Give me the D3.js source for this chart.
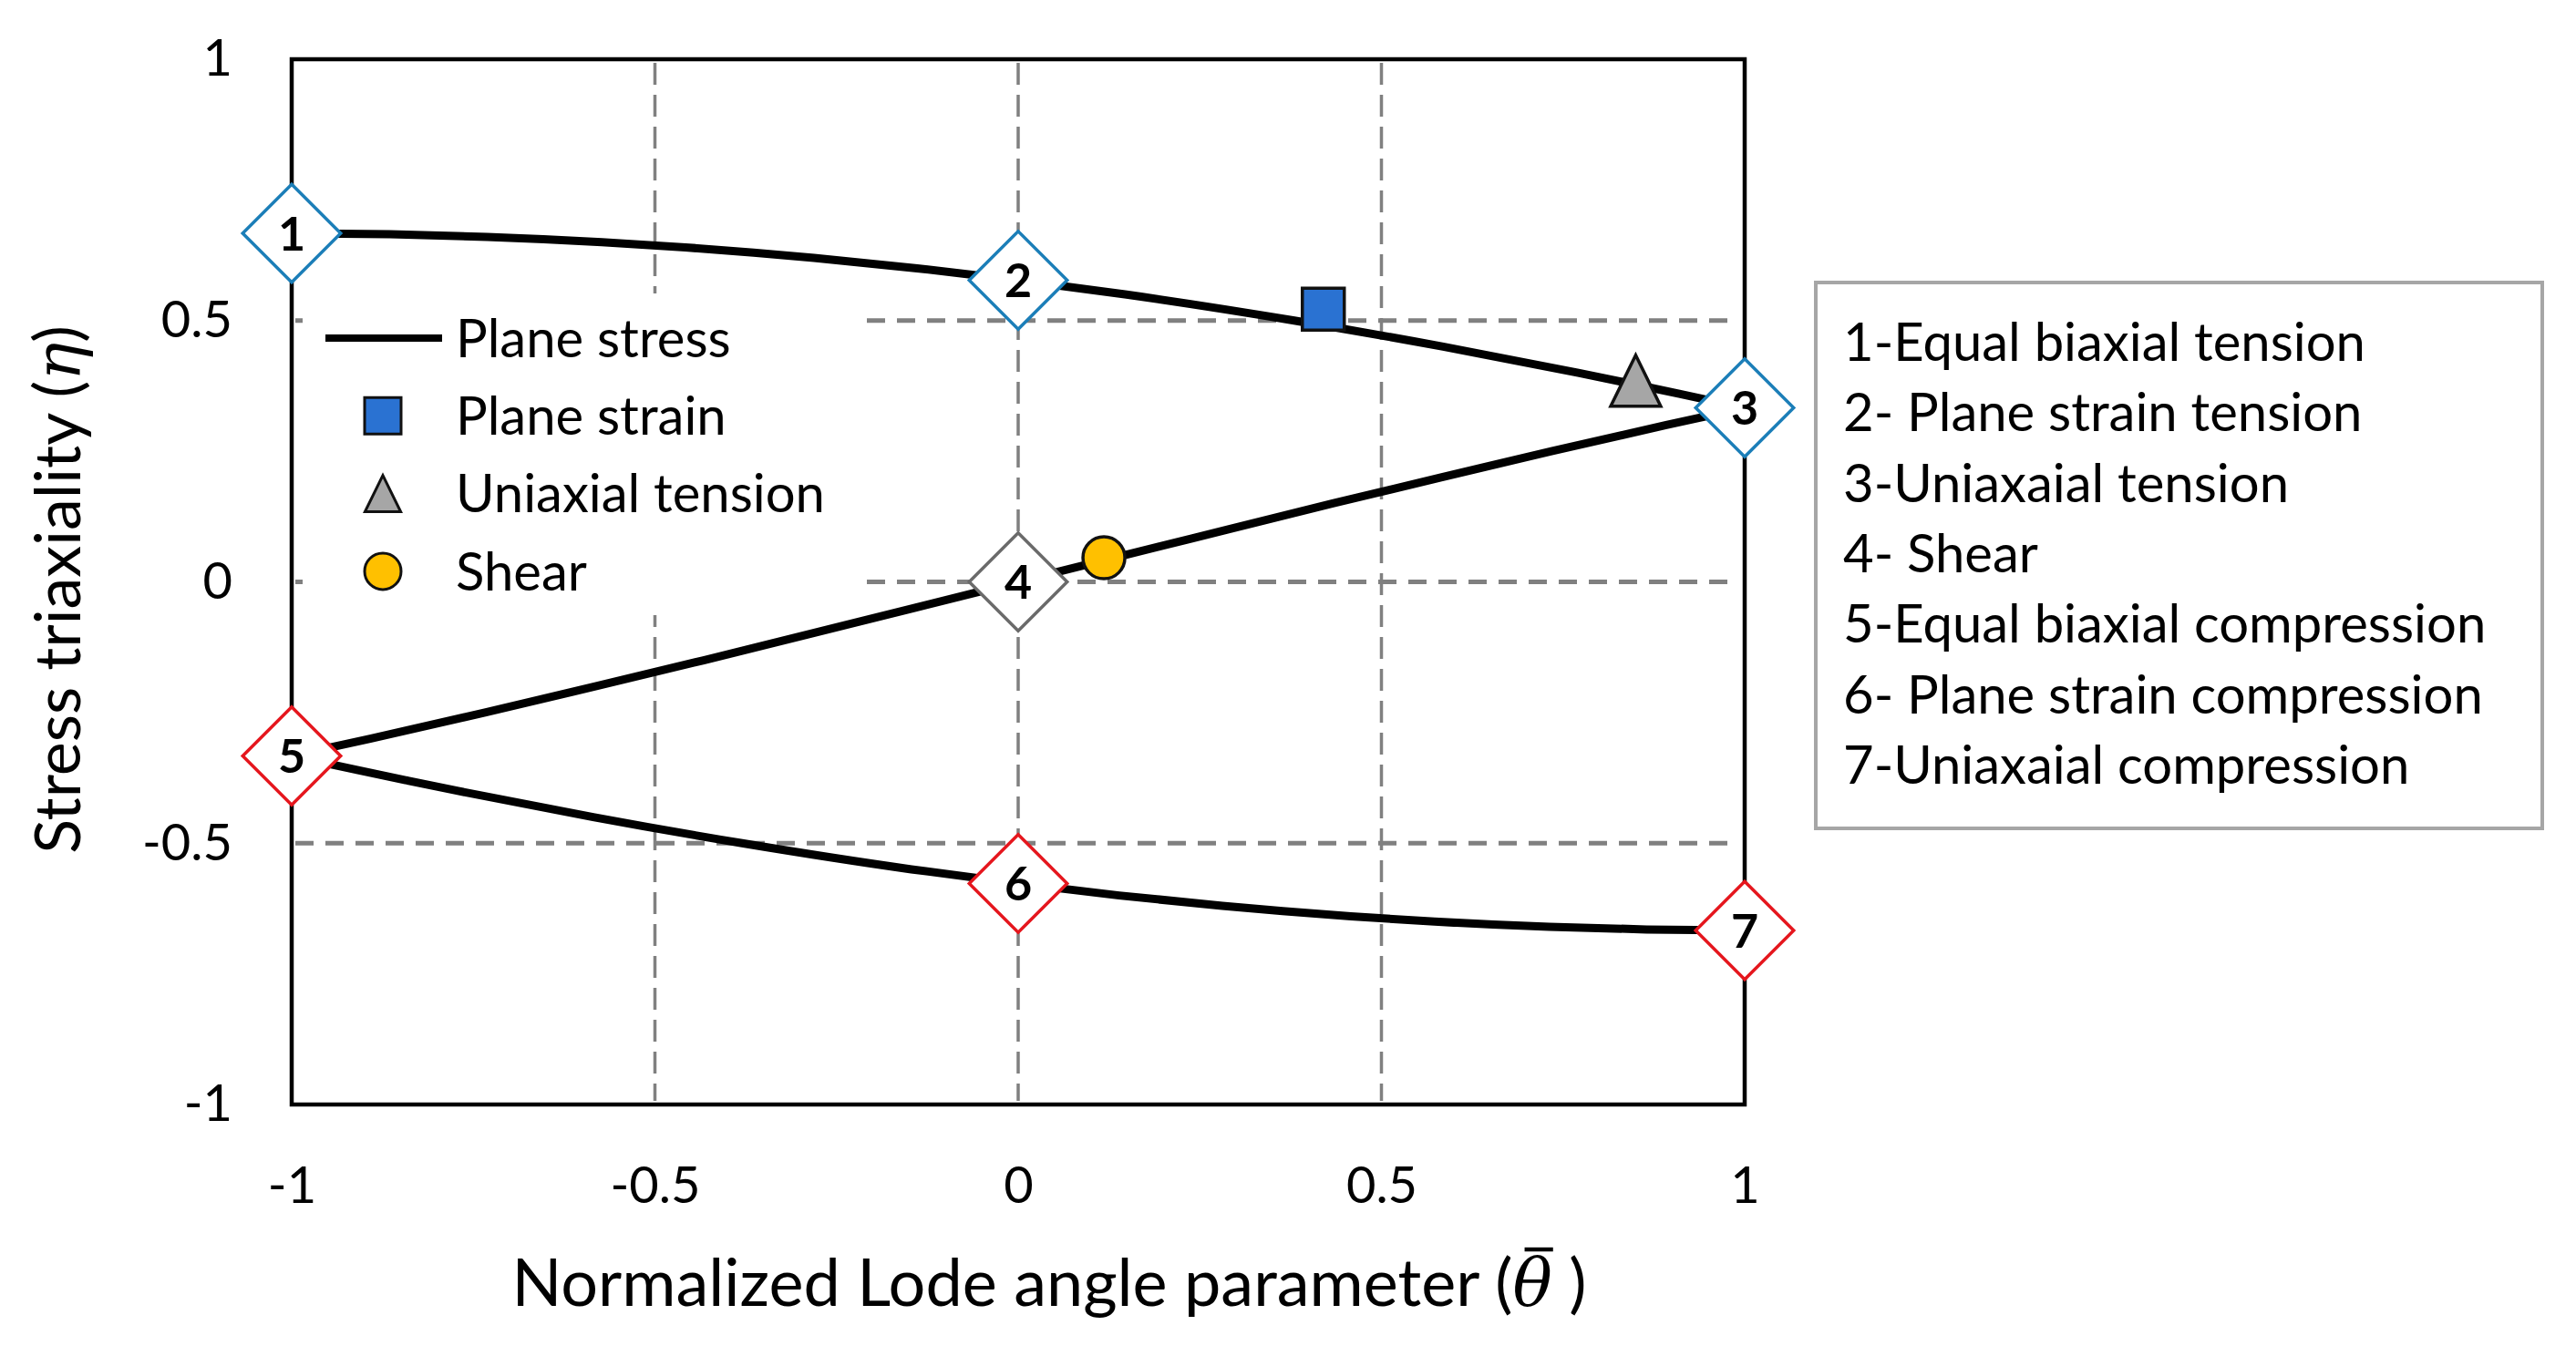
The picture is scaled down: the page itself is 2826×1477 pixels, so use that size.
<!DOCTYPE html>
<html>
<head>
<meta charset="utf-8">
<script src="https://cdn.jsdelivr.net/npm/d3@7"></script>
<style>
  body { margin: 0; background: #fff; }
  svg { display: block; }
  text { font-family: Lato, "Open Sans", "Noto Sans", sans-serif; fill: #000; }
</style>
</head>
<body>
<svg id="chart" width="2826" height="1477"></svg>
<script>
// ---------------- data ----------------
const thetaTicks = [-1, -0.5, 0, 0.5, 1];
const etaTicks = [-1, -0.5, 0, 0.5, 1];
const gridTheta = [-0.5, 0, 0.5];
const gridEta = [-0.5, 0, 0.5];

// plane stress curve, three branches
const upperTheta = [-1, -0.865, -0.731, -0.573, -0.458, -0.364, -0.281, -0.139, 0, 0.147, 0.380, 0.585, 0.771, 0.841, 0.910, 1];
const upperEta   = [0.667, 0.665, 0.660, 0.650, 0.640, 0.630, 0.620, 0.600, 0.577, 0.550, 0.500, 0.450, 0.400, 0.380, 0.360, 0.333];
const middleTheta = [-1, -0.892, -0.734, -0.582, -0.433, -0.288, -0.143, 0, 0.143, 0.288, 0.433, 0.582, 0.734, 0.892, 1];
const middleEta   = [-0.333, -0.30, -0.25, -0.20, -0.15, -0.10, -0.05, 0, 0.05, 0.10, 0.15, 0.20, 0.25, 0.30, 0.333];
const lowerTheta = [-1, -0.910, -0.841, -0.771, -0.585, -0.380, -0.147, 0, 0.139, 0.281, 0.364, 0.458, 0.573, 0.731, 0.865, 1];
const lowerEta   = [-0.333, -0.360, -0.380, -0.400, -0.450, -0.500, -0.550, -0.577, -0.600, -0.620, -0.630, -0.640, -0.650, -0.660, -0.665, -0.667];

// numbered stress states (diamonds)
const stateLabels = ["1", "2", "3", "4", "5", "6", "7"];
const stateTheta  = [-1, 0, 1, 0, -1, 0, 1];
const stateEta    = [0.667, 0.577, 0.333, 0, -0.333, -0.577, -0.667];
const stateGroup  = ["tension", "tension", "tension", "shear", "compression", "compression", "compression"];
const stateNames  = ["1-Equal biaxial tension", "2- Plane strain tension", "3-Uniaxaial tension", "4- Shear",
                     "5-Equal biaxial compression", "6- Plane strain compression", "7-Uniaxaial compression"];

// test specimens
const testNames = ["Plane strain", "Uniaxial tension", "Shear"];
const testTheta = [0.42, 0.85, 0.118];
const testEta   = [0.522, 0.385, 0.046];
const curveName = "Plane stress";

// ---------------- styles / layout ----------------
const groupColor = { tension: "#1B7EB8", shear: "#6A6A6A", compression: "#E5161D" };
const testShape = { "Plane strain": "square", "Uniaxial tension": "triangle", "Shear": "circle" };
const testFill = { "Plane strain": "#2A72D2", "Uniaxial tension": "#A6A6A6", "Shear": "#FFC000" };

const svg = d3.select("#chart");
const x = d3.scaleLinear().domain([-1, 1]).range([320, 1914]);
const y = d3.scaleLinear().domain([-1, 1]).range([1212, 65]);

const tri = { draw(ctx, size) { const h = Math.sqrt(size); const w = h * 0.98;
  ctx.moveTo(0, -h / 2); ctx.lineTo(w / 2, h / 2); ctx.lineTo(-w / 2, h / 2); ctx.closePath(); } };
function symFor(shape, s) {
  if (shape === "square") return d3.symbol().type(d3.symbolSquare).size(s * s)();
  if (shape === "triangle") return d3.symbol().type(tri).size(s * s)();
  return d3.symbol().type(d3.symbolCircle).size(Math.PI * s * s / 4)();
}

// gridlines
const grid = svg.append("g");
grid.selectAll("line.v").data(gridTheta).join("line").attr("class", "v")
  .attr("x1", d => x(d)).attr("x2", d => x(d)).attr("y1", y(1) + 4).attr("y2", y(-1) - 4)
  .attr("stroke", "#808080").attr("stroke-width", 3.5).attr("stroke-dasharray", "24,11");
grid.selectAll("line.h").data(gridEta).join("line").attr("class", "h")
  .attr("x1", x(-1) + 4).attr("x2", x(1) - 14).attr("y1", d => y(d)).attr("y2", d => y(d))
  .attr("stroke", "#808080").attr("stroke-width", 5).attr("stroke-dasharray", "20,13");

// inner legend background (white) covering grid
svg.append("rect").attr("x", 332).attr("y", 322).attr("width", 608).attr("height", 353).attr("fill", "#fff");

// frame
svg.append("rect").attr("x", x(-1)).attr("y", y(1)).attr("width", x(1) - x(-1)).attr("height", y(-1) - y(1))
  .attr("fill", "none").attr("stroke", "#000").attr("stroke-width", 4.5);

// axes
const yAxis = svg.append("g").attr("transform", `translate(${x(-1)},0)`)
  .call(d3.axisLeft(y).tickValues(etaTicks).tickSize(0).tickPadding(65).tickFormat(d => String(d)));
yAxis.select(".domain").remove();
yAxis.selectAll("text").style("font-size", "56px").style("font-family", "Lato, sans-serif");
const xAxis = svg.append("g").attr("transform", `translate(0,${y(-1)})`)
  .call(d3.axisBottom(x).tickValues(thetaTicks).tickSize(0).tickPadding(68).tickFormat(d => String(d)));
xAxis.select(".domain").remove();
xAxis.selectAll("text").style("font-size", "56px").style("font-family", "Lato, sans-serif");

// axis titles
const xPre = "Normalized Lode angle parameter (";
const xt = svg.append("text").attr("x", 1151).attr("y", 1433).attr("text-anchor", "middle").style("font-size", "72px");
xt.append("tspan").text(xPre);
xt.append("tspan").style("font-family", "DejaVu Serif").style("font-style", "italic").text("\u03B8");
xt.append("tspan").text(" )");
// bar over theta
const ext = xt.node().getExtentOfChar(xPre.length);
svg.append("line")
  .attr("x1", ext.x + ext.width * 0.30).attr("x2", ext.x + ext.width * 1.02)
  .attr("y1", ext.y + ext.height * 0.06).attr("y2", ext.y + ext.height * 0.06)
  .attr("stroke", "#000").attr("stroke-width", 4.5);

const yt = svg.append("text").attr("transform", "translate(88,647) rotate(-90)").attr("text-anchor", "middle").style("font-size", "70px");
yt.append("tspan").text("Stress triaxiality (");
yt.append("tspan").style("font-family", "DejaVu Serif").style("font-style", "italic").text("\u03B7");
yt.append("tspan").text(")");

// curves
const line = d3.line().x(d => x(d[0])).y(d => y(d[1])).curve(d3.curveMonotoneX);
const branches = [d3.zip(upperTheta, upperEta), d3.zip(middleTheta, middleEta), d3.zip(lowerTheta, lowerEta)];
svg.append("g").selectAll("path").data(branches).join("path")
  .attr("d", line).attr("fill", "none").attr("stroke", "#000").attr("stroke-width", 9).attr("stroke-linecap", "butt");

// test markers
const tests = testNames.map((n, i) => ({ n, t: testTheta[i], e: testEta[i] }));
const markerSize = { "Plane strain": 46, "Uniaxial tension": 56, "Shear": 46 };
svg.append("g").selectAll("path").data(tests).join("path")
  .attr("transform", d => `translate(${x(d.t)},${y(d.e)})`)
  .attr("d", d => symFor(testShape[d.n], markerSize[d.n]))
  .attr("fill", d => testFill[d.n]).attr("stroke", "#111").attr("stroke-width", 3.5);

// state diamonds
const states = stateLabels.map((l, i) => ({ l, t: stateTheta[i], e: stateEta[i], g: stateGroup[i] }));
const sg = svg.append("g").selectAll("g").data(states).join("g")
  .attr("transform", d => `translate(${x(d.t)},${y(d.e)})`);
sg.append("path").attr("d", d3.symbol().type(d3.symbolSquare).size(76 * 76)())
  .attr("transform", "rotate(45)").attr("fill", "#fff")
  .attr("stroke", d => groupColor[d.g]).attr("stroke-width", 3.5);
sg.append("text").attr("text-anchor", "middle").attr("dy", "0.36em")
  .style("font-size", "52px").style("font-weight", "bold").text(d => d.l);

// inner legend
const legRows = [curveName].concat(testNames);
const leg = svg.append("g").selectAll("g").data(legRows).join("g")
  .attr("transform", (d, i) => `translate(0,${371 + i * 85.3})`);
leg.each(function (d) {
  const g = d3.select(this);
  if (d === curveName) {
    g.append("line").attr("x1", 357).attr("x2", 485).attr("y1", 0).attr("y2", 0)
      .attr("stroke", "#000").attr("stroke-width", 8);
  } else {
    g.append("path").attr("transform", "translate(420,0)").attr("d", symFor(testShape[d], 40))
      .attr("fill", testFill[d]).attr("stroke", "#111").attr("stroke-width", 3);
  }
  g.append("text").attr("x", 500).attr("dy", "0.36em").style("font-size", "58px").text(d);
});

// right legend box
svg.append("rect").attr("x", 1992).attr("y", 310).attr("width", 797).attr("height", 599)
  .attr("fill", "#fff").attr("stroke", "#A6A6A6").attr("stroke-width", 4);
svg.append("g").selectAll("text").data(stateNames).join("text")
  .attr("x", 2022).attr("y", (d, i) => 396 + i * 77.3).style("font-size", "58px").text(d => d);
</script>
</body>
</html>
